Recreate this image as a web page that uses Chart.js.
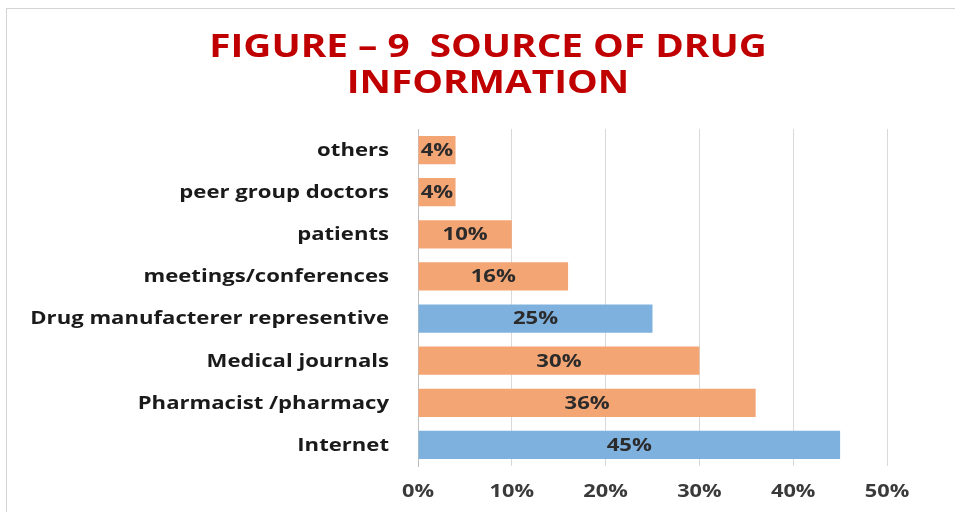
<!DOCTYPE html>
<html>
<head>
<meta charset="utf-8">
<script src="https://cdn.jsdelivr.net/npm/chart.js@4/dist/chart.umd.min.js"></script>
<style>
  html, body { margin: 0; padding: 0; background: #fff; }
  #wrap { position: relative; width: 955px; height: 512px; overflow: hidden; }
  #frame { position: absolute; left: 6px; top: 8px; width: 970px; height: 510px; border: 1px solid #d4d4d4; }
  canvas { position: absolute; left: 0; top: 0; }
</style>
</head>
<body>
<div id="wrap">
  <div id="frame"></div>
  <canvas id="chart" width="955" height="512"></canvas>
</div>
<script>
// source of drug information, top to bottom
const sources = [
  'others',
  'peer group doctors',
  'patients',
  'meetings/conferences',
  'Drug manufacterer representive',
  'Medical journals',
  'Pharmacist /pharmacy',
  'Internet'
];
const percents = [4, 4, 10, 16, 25, 30, 36, 45];
const barColors = ['#f4a574', '#f4a574', '#f4a574', '#f4a574', '#7fb1de', '#f4a574', '#f4a574', '#7fb1de'];
const xTicks = [0, 10, 20, 30, 40, 50];
const titleLines = ['FIGURE \u2013 9  SOURCE OF DRUG', 'INFORMATION'];

const FONT = "'Open Sans', sans-serif";

// the picture's text is stretched sideways, so draw it with a horizontal scale
function wideText(ctx, text, x, y, sx, align) {
  ctx.save();
  ctx.translate(x, y);
  ctx.scale(sx, 1);
  ctx.textAlign = align;
  ctx.fillText(text, 0, 0);
  ctx.restore();
}

const textPlugin = {
  id: 'textPlugin',
  afterDraw(chart) {
    const ctx = chart.ctx;
    const meta = chart.getDatasetMeta(0);
    const xs = chart.scales.x;
    const ys = chart.scales.y;
    ctx.save();
    ctx.textBaseline = 'middle';

    // title
    ctx.font = 'bold 32px ' + FONT;
    ctx.fillStyle = '#c00000';
    wideText(ctx, titleLines[0], 488, 48, 1.21, 'center');
    wideText(ctx, titleLines[1], 488, 84, 1.21, 'center');

    // category labels
    ctx.font = 'bold 17px ' + FONT;
    ctx.fillStyle = '#1a1a1a';
    sources.forEach((s, i) => {
      wideText(ctx, s, 389, ys.getPixelForTick(i) + 1, 1.3, 'right');
    });

    // x tick labels
    ctx.fillStyle = '#3a3a3a';
    xTicks.forEach(v => {
      wideText(ctx, v + '%', xs.getPixelForValue(v), 492, 1.28, 'center');
    });

    // values in the middle of each bar
    ctx.fillStyle = '#2b2b2b';
    meta.data.forEach((bar, i) => {
      wideText(ctx, percents[i] + '%', (bar.base + bar.x) / 2, bar.y + 1, 1.3, 'center');
    });
    ctx.restore();
  }
};

new Chart(document.getElementById('chart'), {
  type: 'bar',
  data: {
    labels: sources,
    datasets: [{
      data: percents,
      backgroundColor: barColors,
      categoryPercentage: 1,
      barPercentage: 0.67
    }]
  },
  options: {
    indexAxis: 'y',
    responsive: false,
    animation: false,
    layout: { padding: { top: 129, right: 68, bottom: 10, left: 0 } },
    plugins: {
      legend: { display: false },
      tooltip: { enabled: false },
      title: { display: false }
    },
    scales: {
      x: {
        min: 0,
        max: 50,
        afterBuildTicks(axis) { axis.ticks = xTicks.map(v => ({ value: v })); },
        afterFit(axis) { axis.height = 36; },
        grid: { color: '#d9d9d9', drawTicks: false },
        border: { display: false },
        ticks: { display: false }
      },
      y: {
        afterFit(axis) { axis.width = 418; },
        grid: { display: false, drawTicks: false },
        border: { display: true, color: '#bfbfbf' },
        ticks: { display: false }
      }
    }
  },
  plugins: [textPlugin]
});
</script>
</body>
</html>
